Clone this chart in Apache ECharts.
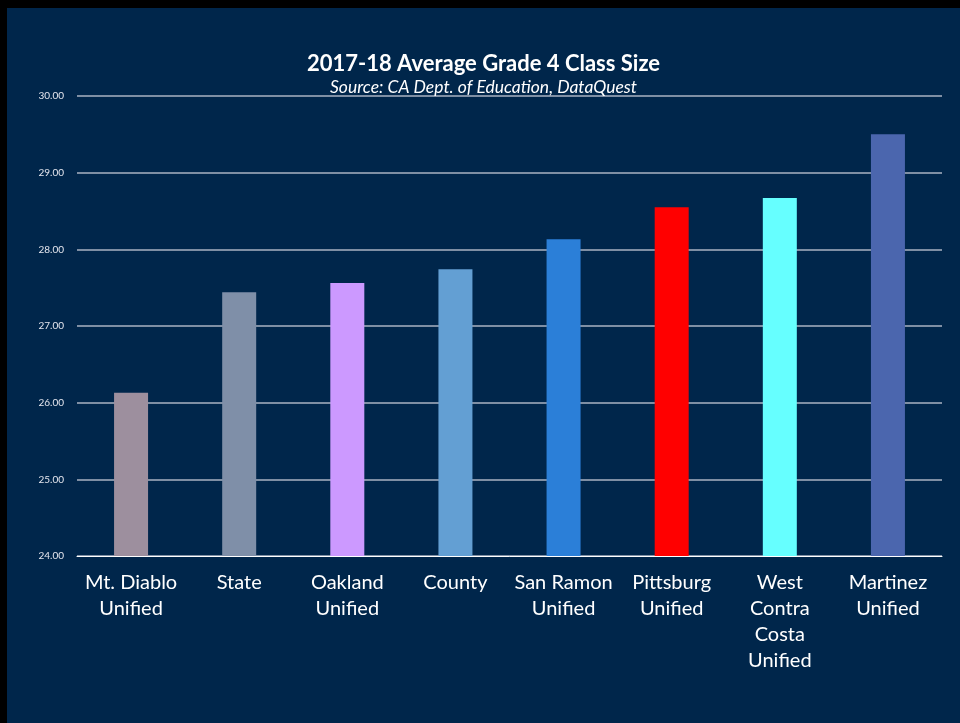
<!DOCTYPE html>
<html>
<head>
<meta charset="utf-8">
<script src="https://cdn.jsdelivr.net/npm/echarts@6/dist/echarts.min.js"></script>
<style>
  html, body { margin: 0; padding: 0; background: #000; overflow: hidden; }
  #chart { position: absolute; left: 7px; top: 8px; width: 953px; height: 715px; background: #00264b; }
</style>
</head>
<body>
<div id="chart"></div>
<script>
// 2017-18 average grade 4 class size, by district
const categories = [
  'Mt. Diablo\nUnified', 'State', 'Oakland\nUnified', 'County',
  'San Ramon\nUnified', 'Pittsburg\nUnified', 'West\nContra\nCosta\nUnified', 'Martinez\nUnified'
];
const classSize = [26.13, 27.44, 27.56, 27.74, 28.13, 28.55, 28.67, 29.50];
const barColors = ['#9d8f9e', '#7f8fa8', '#cc99ff', '#639fd3', '#2b7fd8', '#ff0000', '#66ffff', '#4b66ae'];

const chart = echarts.init(document.getElementById('chart'));

chart.setOption({
  backgroundColor: '#00264b',
  title: {
    text: '2017-18 Average Grade 4 Class Size',
    subtext: 'Source: CA Dept. of Education, DataQuest',
    left: 'center',
    top: 40,
    itemGap: 3,
    textStyle: { color: '#ffffff', fontFamily: 'Lato', fontWeight: 'bold', fontSize: 22 },
    subtextStyle: { color: '#ffffff', fontFamily: 'Lato', fontStyle: 'italic', fontSize: 17.5 }
  },
  grid: { left: 70, right: 18, top: 88, bottom: 167 },
  xAxis: {
    type: 'category',
    data: categories,
    axisLine: { lineStyle: { color: '#ffffff', width: 1 } },
    axisTick: { show: false },
    axisLabel: {
      color: '#ffffff', fontFamily: 'Lato', fontSize: 20, lineHeight: 26,
      margin: 14, interval: 0
    }
  },
  yAxis: {
    type: 'value',
    min: 24,
    max: 30,
    interval: 1,
    axisLine: { show: false },
    axisTick: { show: false },
    axisLabel: {
      color: '#e4e6ee', fontFamily: 'Lato', fontSize: 10, margin: 13,
      formatter: v => v.toFixed(2)
    },
    splitLine: { lineStyle: { color: '#aab3c2', width: 1.5 } }
  },
  series: [{
    type: 'bar',
    data: classSize.map((v, i) => ({ value: v, itemStyle: { color: barColors[i] } })),
    barWidth: 34,
    animation: false
  }]
});
</script>
</body>
</html>
